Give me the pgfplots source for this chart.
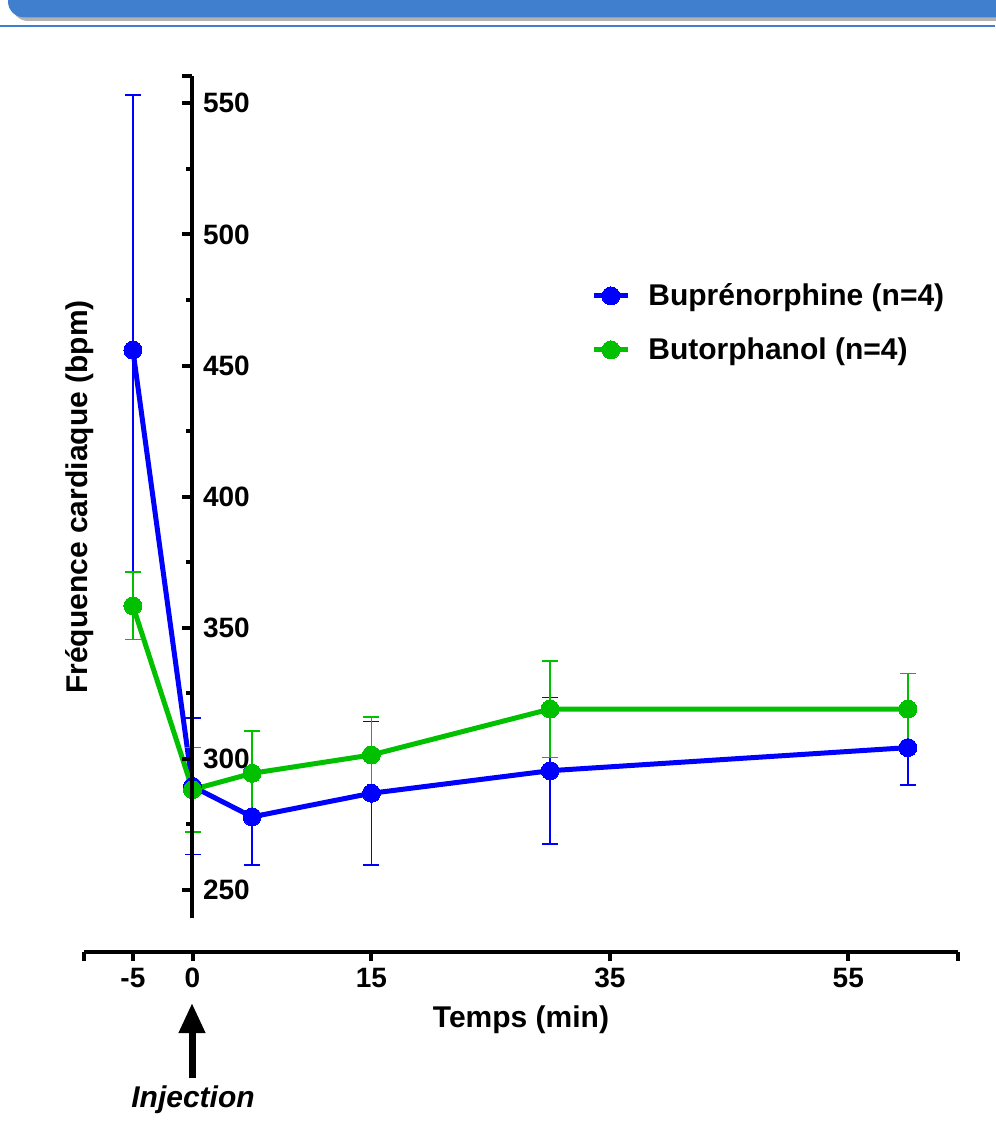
\documentclass[border=0pt]{standalone}
\usepackage{fontspec}
\setmainfont{Liberation Sans}
\usepackage{pgfplots}
\pgfplotsset{compat=1.18}
\usetikzlibrary{arrows.meta}
\definecolor{bup}{RGB}{0,0,255}
\definecolor{but}{RGB}{0,192,0}
\definecolor{hdr}{RGB}{63,127,205}
\begin{document}
\begin{tikzpicture}
\useasboundingbox (0pt,0pt) rectangle (497.5pt,-563.5pt);
% slide header
\fill[black!30, rounded corners=8pt] (6pt,12pt) rectangle (510pt,-10.5pt);
\fill[hdr, rounded corners=8pt] (4pt,12pt) rectangle (510pt,-8.7pt);
\draw[hdr, line width=1pt] (0pt,-12.8pt) -- (497.5pt,-12.8pt);

% data axis (with x axis)
\begin{axis}[
  at={(42pt,-476pt)}, anchor=south west,
  scale only axis, width=437pt, height=438pt,
  xmin=-9.1, xmax=64.2, ymin=226.36, ymax=560.41,
  axis x line*=bottom, axis y line=none,
  x axis line style={-, line width=2pt},
  tick align=outside,
  xtick={-9.1,-5,0,15,35,55,64.2},
  xticklabels={,-5,0,15,35,55,},
  major tick length=4.5pt,
  tick style={line width=2pt, black},
  xticklabel style={font=\fontsize{14}{16}\selectfont\bfseries},
  xlabel={Temps (min)},
  every axis x label/.style={at={(axis description cs:0.5,-0.0776)}, anchor=center, font=\fontsize{15}{18}\selectfont\bfseries},
  clip=false,
  legend style={at={(axis description cs:0.5732,0.7728)}, anchor=north west, draw=none, fill=none,
    font=\fontsize{15}{18}\selectfont\bfseries, row sep=10.5pt,
    /tikz/every odd column/.append style={column sep=7pt}},
  legend cell align=left,
  legend image code/.code={\draw[mark repeat=2,mark phase=2,#1] plot coordinates {(0pt,0pt) (8.5pt,0pt) (17pt,0pt)};},
]
\addplot[bup, line width=2.5pt, mark=*, mark size=4.5pt, mark options={solid, fill=bup, draw=bup, line width=0pt},
  error bars/.cd, y dir=both, y explicit,
  error bar style={line width=0.75pt, bup},
  error mark options={rotate=90, mark size=4pt, line width=0.75pt, bup}]
coordinates {
(-5,455.9) +- (0,97.3)
(0,289.5) +- (0,26.0)
(5,277.9) +- (0,18.4)
(15,286.9) +- (0,27.3)
(30,295.5) +- (0,28.0)
(60,304.3) +- (0,14.3)
};
\addlegendentry{Buprénorphine (n=4)}
\addplot[but, line width=2.5pt, mark=*, mark size=4.5pt, mark options={solid, fill=but, draw=but, line width=0pt},
  error bars/.cd, y dir=both, y explicit,
  error bar style={line width=0.75pt, but},
  error mark options={rotate=90, mark size=4pt, line width=0.75pt, but}]
coordinates {
(-5,358.4) +- (0,12.8)
(0,288.3) +- (0,16.1)
(5,294.5) +- (0,16.2)
(15,301.5) +- (0,14.4)
(30,319.0) +- (0,18.4)
(60,319.0) +- (0,13.6)
};
\addlegendentry{Butorphanol (n=4)}
\end{axis}

% y axis
\begin{axis}[
  at={(96pt,-459pt)}, anchor=south west,
  scale only axis, width=383pt, height=421pt,
  xmin=0, xmax=1, ymin=239.32, ymax=560.41,
  axis y line*=left, axis x line=none,
  y axis line style={-, line width=2pt},
  tick align=outside,
  ytick={250,300,350,400,450,500,550},
  yticklabels={250,300,350,400,450,500,550},
  minor ytick={275,325,375,425,475,525},
  extra y ticks={560.41}, extra y tick labels={},
  major tick length=5pt, minor tick length=3pt,
  tick style={line width=2pt, black},
  yticklabel style={anchor=west, xshift=7pt, font=\fontsize{14}{16}\selectfont\bfseries},
  ylabel={Fréquence cardiaque (bpm)},
  every axis y label/.style={at={(axis description cs:-0.1462,0.5)}, rotate=90, anchor=center, font=\fontsize{15}{18}\selectfont\bfseries},
]
\addplot[draw=none] coordinates {(0.5,400)};
\end{axis}

% injection arrow
\draw[line width=3.5pt, -{Triangle[width=12.5pt,length=15pt]}] (96pt,-539pt) -- (96pt,-501.5pt);
\node[font=\fontsize{15}{18}\selectfont\bfseries\itshape] at (96.5pt,-550pt) {Injection};
\end{tikzpicture}
\end{document}
